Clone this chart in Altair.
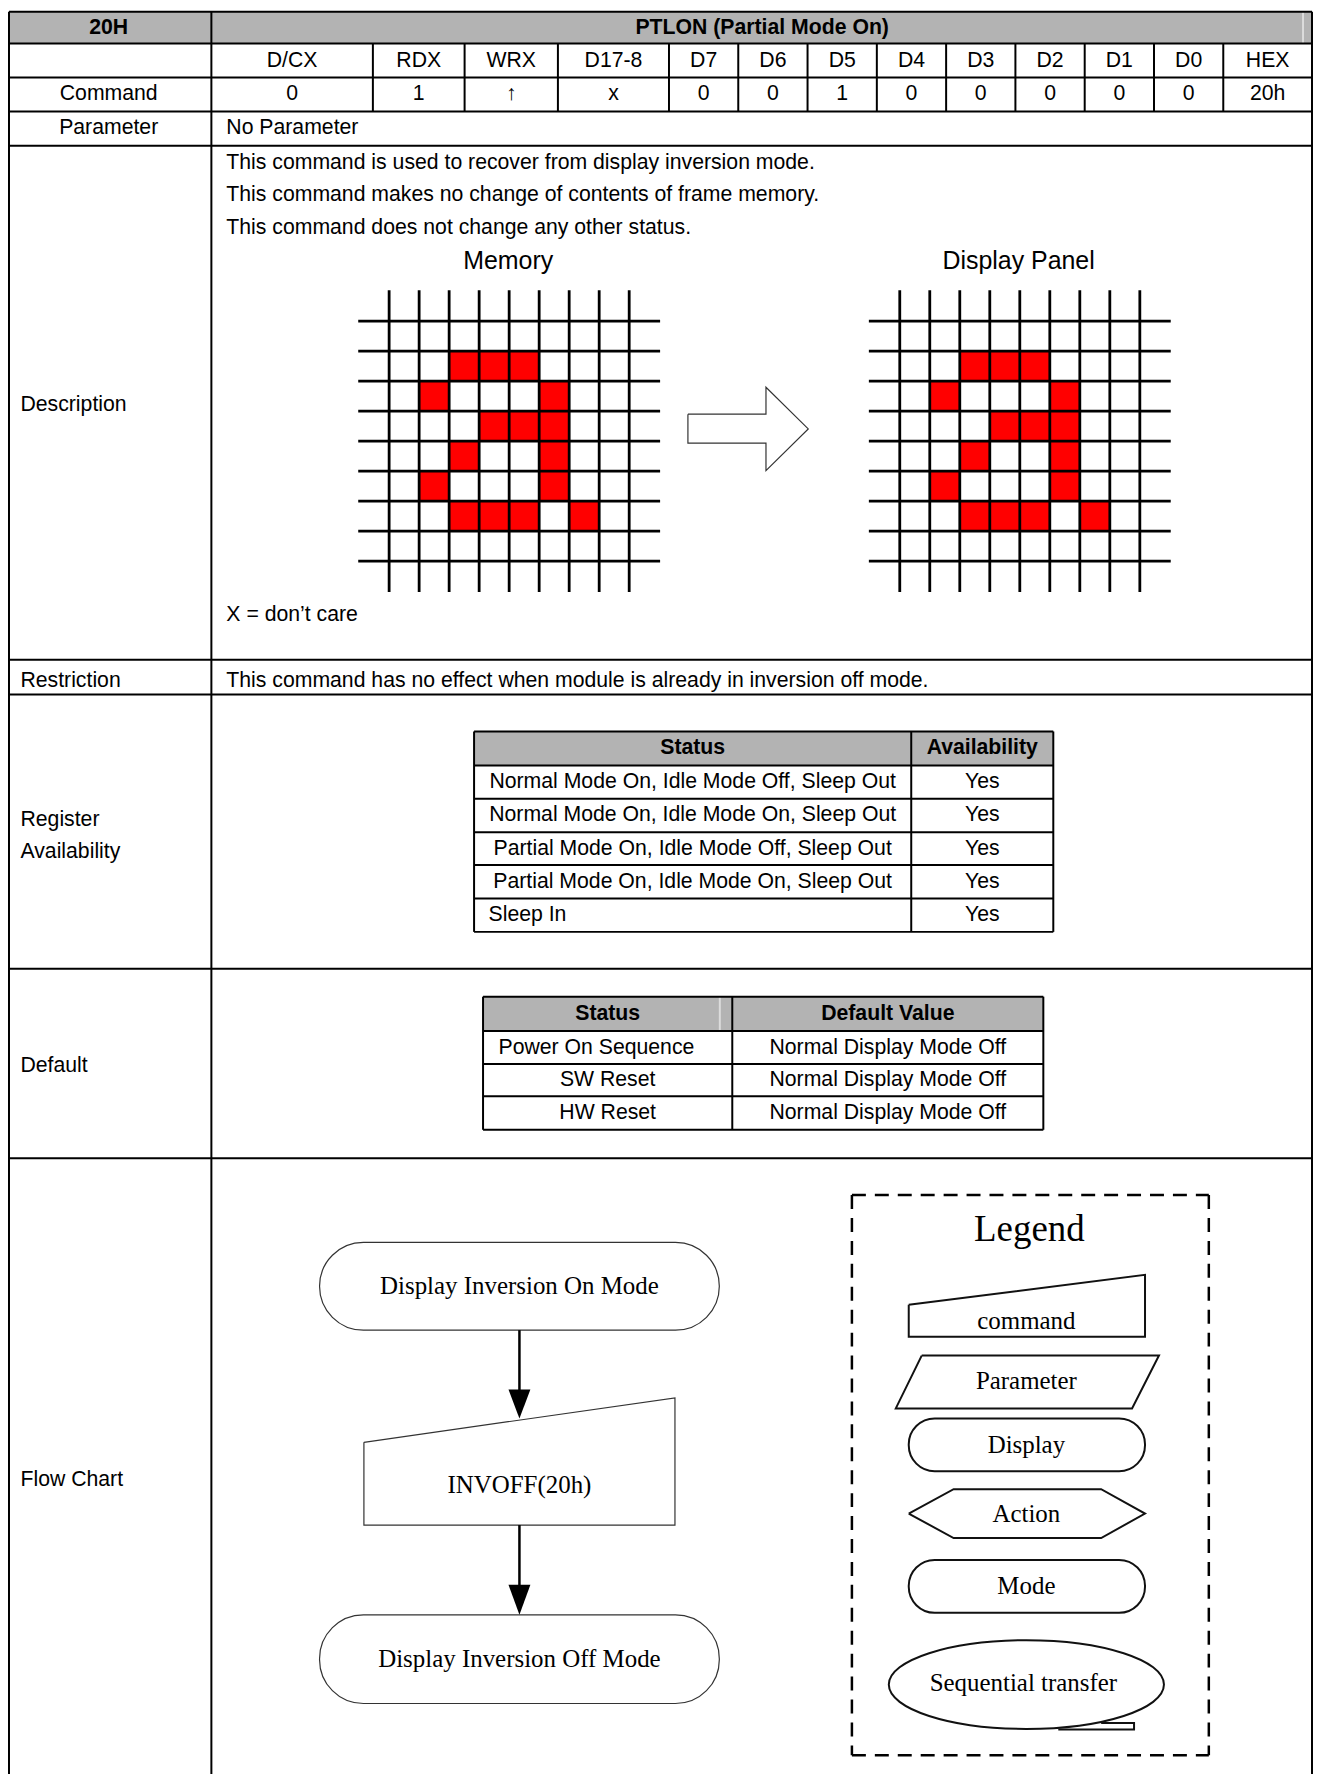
import altair as alt
import pandas as pd

# ---------------- data (positions in reference pixels) ----------------
TBL_LEFT, TBL_MID, TBL_RIGHT, TBL_BOTTOM = 9, 212, 1316, 1790
ROW_LINES = [9, 41, 75, 109, 143.5, 659, 694, 969, 1159]

BIT_EDGES = [212, 374, 466, 559.6, 671, 740.5, 810, 879.5, 949, 1018.5, 1088, 1157.5, 1227, 1316]
BIT_NAMES = ["D/CX", "RDX", "WRX", "D17-8", "D7", "D6", "D5", "D4", "D3", "D2", "D1", "D0", "HEX"]
BIT_VALUES = ["0", "1", "↑", "x", "0", "0", "1", "0", "0", "0", "0", "0", "20h"]

HEADER_TEXT = [("20H", 109, 25), ("PTLON (Partial Mode On)", 764.5, 25)]
CENTER_LABELS = [("Command", 109, 92), ("Parameter", 109, 126)]
LEFT_LABELS = [("Description", 20.5, 403.5), ("Restriction", 20.5, 680.5),
               ("Register", 20.5, 819.5), ("Availability", 20.5, 851.5),
               ("Default", 20.5, 1067), ("Flow Chart", 20.5, 1482)]
BODY_TEXT = [("No Parameter", 227, 126),
             ("This command is used to recover from display inversion mode.", 227, 161),
             ("This command makes no change of contents of frame memory.", 227, 193),
             ("This command does not change any other status.", 227, 225.5),
             ("X = don’t care", 227, 614),
             ("This command has no effect when module is already in inversion off mode.", 227, 680.5)]
PANEL_TITLES = [("Memory", 509.7, 258.7), ("Display Panel", 1021.7, 258.7)]

# pixel pattern (row, col) shown in both panels
RED_CELLS = [(1, 2), (1, 3), (1, 4), (2, 1), (2, 5), (3, 3), (3, 4), (3, 5),
             (4, 2), (4, 5), (5, 1), (5, 5), (6, 2), (6, 3), (6, 4), (6, 6)]
PANEL_X0 = [390.3, 902.5]
PANEL_Y0 = 319.3
CELL = 30.1
GRID_LINES = 9

BLOCK_ARROW = [(690, 412.7), (768.3, 412.7), (768.3, 385.7), (810.7, 427.5),
               (768.3, 469.3), (768.3, 441.7), (690, 441.7), (690, 412.7)]

# Register availability table
REG_X = [475.5, 914, 1056.5]
REG_Y = [731, 765, 798.5, 832, 865, 898.5, 932]
REG_HEAD = ["Status", "Availability"]
REG_STATUS = ["Normal Mode On, Idle Mode Off, Sleep Out",
              "Normal Mode On, Idle Mode On, Sleep Out",
              "Partial Mode On, Idle Mode Off, Sleep Out",
              "Partial Mode On, Idle Mode On, Sleep Out",
              "Sleep In"]
REG_AVAIL = ["Yes", "Yes", "Yes", "Yes", "Yes"]

# Default table
DEF_X = [484.5, 734.5, 1046.5]
DEF_Y = [997, 1031.5, 1064.5, 1097, 1130.5]
DEF_HEAD = ["Status", "Default Value"]
DEF_STATUS = ["Power On Sequence", "SW Reset", "HW Reset"]
DEF_VALUE = ["Normal Display Mode Off", "Normal Display Mode Off", "Normal Display Mode Off"]

# Flow chart
TERMINATORS = [("Display Inversion On Mode", 320.5, 721.5, 1243.5, 1331.5),
               ("Display Inversion Off Mode", 320.5, 721.5, 1617, 1706)]
CMD_SHAPE = [(365, 1444), (677, 1399.5), (677, 1527), (365, 1527), (365, 1444)]
CMD_TEXT = ("INVOFF(20h)", 521, 1487)
SHAFTS = [(521, 1331.5, 1392), (521, 1527, 1588)]
HEADS = [(1391, 1420), (1587, 1617)]
HEAD_X, HEAD_HALF = 521, 11

# Legend
LEG_BOX = (854.5, 1212.5, 1196, 1758)
LEG_TITLE = ("Legend", 1032.5, 1231)
LEG_POLYS = {
    "command": [(911.5, 1306), (1148.5, 1276), (1148.5, 1338), (911.5, 1338), (911.5, 1306)],
    "parameter": [(924.5, 1357), (1162.5, 1357), (1135.5, 1410), (898.5, 1410), (924.5, 1357)],
    "action": [(911.5, 1515.5), (956.5, 1491), (1104.5, 1491), (1148.5, 1515.5), (1104.5, 1540),
               (956.5, 1540), (911.5, 1515.5)],
    "tail": [(1104.5, 1725.5), (1137.5, 1725.5), (1137.5, 1732), (1061.5, 1732)],
}
LEG_PILLS = [(911.5, 1148.5, 1420, 1473), (911.5, 1148.5, 1562, 1615)]
LEG_TEXT = [("command", 1029.5, 1322), ("Parameter", 1029.5, 1383), ("Display", 1029.5, 1446.5),
            ("Action", 1029.5, 1515.5), ("Mode", 1029.5, 1588.5), ("Sequential transfer", 1026.5, 1685)]
ELLIPSE = (1029.5, 1687)

# ---------------- scales (1:1 with the page, which starts 8px in) ----------------
XS = alt.Scale(domain=[8, 1317], nice=False, zero=False)
YS = alt.Scale(domain=[8, 1774], nice=False, zero=False, reverse=True)


def X(f):
    return alt.X(f + ":Q", scale=XS, axis=None)


def Y(f):
    return alt.Y(f + ":Q", scale=YS, axis=None)


def rules(rows, **kw):
    df = pd.DataFrame(rows, columns=["x", "x2", "y", "y2"])
    return alt.Chart(df).mark_rule(**kw).encode(x=X("x"), x2="x2:Q", y=Y("y"), y2="y2:Q")


def rects(rows, **kw):
    df = pd.DataFrame(rows, columns=["x", "x2", "y", "y2"])
    return alt.Chart(df).mark_rect(**kw).encode(x=X("x"), x2="x2:Q", y=Y("y"), y2="y2:Q")


def texts(rows, **kw):
    df = pd.DataFrame(rows, columns=["t", "x", "y"])
    return alt.Chart(df).mark_text(baseline="middle", **kw).encode(x=X("x"), y=Y("y"), text="t:N")


def polys(shapes, **kw):
    rows = []
    for name, pts in shapes.items():
        for i, (px, py) in enumerate(pts):
            rows.append({"shape": name, "ord": i, "x": px, "y": py})
    df = pd.DataFrame(rows)
    return alt.Chart(df).mark_line(strokeJoin="miter", **kw).encode(
        x=X("x"), y=Y("y"), detail="shape:N", order="ord:Q")


SANS = "Liberation Sans"
SERIF = "Liberation Serif"
GRAY = "#b3b3b3"
FS = 21.3

layers = []

# --- fills ---
layers.append(rects([(TBL_LEFT, TBL_RIGHT, ROW_LINES[0], ROW_LINES[1]),
                     (REG_X[0], REG_X[-1], REG_Y[0], REG_Y[1]),
                     (DEF_X[0], DEF_X[-1], DEF_Y[0], DEF_Y[1])], color=GRAY))
layers.append(rules([(1307, 1307, ROW_LINES[0], ROW_LINES[1]),
                     (722, 722, DEF_Y[0], DEF_Y[1])], color="#dcdcdc", strokeWidth=2))

red = []
for x0 in PANEL_X0:
    for r, c in RED_CELLS:
        red.append((x0 + c * CELL, x0 + (c + 1) * CELL, PANEL_Y0 + r * CELL, PANEL_Y0 + (r + 1) * CELL))
layers.append(rects(red, color="#ff0000"))

# --- main table lines ---
main = []
for yv in ROW_LINES:
    main.append((TBL_LEFT, TBL_RIGHT, yv, yv))
for xv in (TBL_LEFT, TBL_MID, TBL_RIGHT):
    main.append((xv, xv, ROW_LINES[0], TBL_BOTTOM))
for xv in BIT_EDGES[1:-1]:
    main.append((xv, xv, ROW_LINES[1], ROW_LINES[3]))
# small tables
for yv in REG_Y:
    main.append((REG_X[0], REG_X[-1], yv, yv))
for xv in REG_X:
    main.append((xv, xv, REG_Y[0], REG_Y[-1]))
for yv in DEF_Y:
    main.append((DEF_X[0], DEF_X[-1], yv, yv))
for xv in DEF_X:
    main.append((xv, xv, DEF_Y[0], DEF_Y[-1]))
layers.append(rules(main, color="black", strokeWidth=2))

# --- pixel grids ---
grid = []
for x0 in PANEL_X0:
    for i in range(GRID_LINES):
        gx = x0 + i * CELL
        grid.append((gx, gx, PANEL_Y0 - 31, PANEL_Y0 + (GRID_LINES - 1) * CELL + 31))
        gy = PANEL_Y0 + i * CELL
        grid.append((x0 - 31, x0 + (GRID_LINES - 1) * CELL + 31, gy, gy))
layers.append(rules(grid, color="black", strokeWidth=2.8))

layers.append(polys({"arrow": BLOCK_ARROW}, color="#333333", strokeWidth=1.2))

# --- flow chart ---
layers.append(rects([(t[1], t[2], t[3], t[4]) for t in TERMINATORS], fill="white",
                    stroke="#333333", strokeWidth=1.2, cornerRadius=44))
layers.append(polys({"cmd": CMD_SHAPE}, color="#333333", strokeWidth=1.2))
layers.append(rules([(sx, sx, a, b) for sx, a, b in SHAFTS], color="black", strokeWidth=2.5))
head_rows = []
for k, (yb, yt) in enumerate(HEADS):
    head_rows.append({"id": k, "y": yb, "xl": HEAD_X - HEAD_HALF, "xr": HEAD_X + HEAD_HALF})
    head_rows.append({"id": k, "y": yt, "xl": HEAD_X, "xr": HEAD_X})
layers.append(alt.Chart(pd.DataFrame(head_rows)).mark_area(orient="horizontal", color="black").encode(
    y=Y("y"), x=X("xl"), x2="xr:Q", detail="id:N"))

# --- legend ---
bx0, bx1, by0, by1 = LEG_BOX
layers.append(rules([(bx0, bx1, by0, by0), (bx0, bx1, by1, by1), (bx0, bx0, by0, by1), (bx1, bx1, by0, by1)],
                    color="black", strokeWidth=2.5, strokeDash=[14, 9]))
layers.append(rects(LEG_PILLS, fill="white", stroke="#111111", strokeWidth=2, cornerRadius=26))
layers.append(polys({k: v for k, v in LEG_POLYS.items()}, color="#111111", strokeWidth=2))
layers.append(alt.Chart(pd.DataFrame([{"x": ELLIPSE[0], "y": ELLIPSE[1]}])).mark_point(
    shape="M -1 0 A 1 0.3225 0 1 1 1 0 A 1 0.3225 0 1 1 -1 0 Z", size=276 * 276,
    filled=False, stroke="#111111", strokeWidth=2, opacity=1).encode(x=X("x"), y=Y("y")))

# --- texts ---
layers.append(texts(HEADER_TEXT, font=SANS, fontSize=FS, fontWeight="bold", align="center"))
layers.append(texts([(n, (BIT_EDGES[i] + BIT_EDGES[i + 1]) / 2, 58) for i, n in enumerate(BIT_NAMES)]
                    + [(v, (BIT_EDGES[i] + BIT_EDGES[i + 1]) / 2, 92) for i, v in enumerate(BIT_VALUES)]
                    + CENTER_LABELS
                    + [(s, (REG_X[0] + REG_X[1]) / 2, (REG_Y[i + 1] + REG_Y[i + 2]) / 2)
                       for i, s in enumerate(REG_STATUS) if s != "Sleep In"]
                    + [(v, (REG_X[1] + REG_X[2]) / 2, (REG_Y[i + 1] + REG_Y[i + 2]) / 2)
                       for i, v in enumerate(REG_AVAIL)]
                    + [(s, (DEF_X[0] + DEF_X[1]) / 2, (DEF_Y[i + 1] + DEF_Y[i + 2]) / 2)
                       for i, s in enumerate(DEF_STATUS) if i > 0]
                    + [(v, (DEF_X[1] + DEF_X[2]) / 2, (DEF_Y[i + 1] + DEF_Y[i + 2]) / 2)
                       for i, v in enumerate(DEF_VALUE)],
                    font=SANS, fontSize=FS, align="center"))
layers.append(texts(LEFT_LABELS + BODY_TEXT
                    + [("Sleep In", 490, (REG_Y[5] + REG_Y[6]) / 2),
                       ("Power On Sequence", 500, (DEF_Y[1] + DEF_Y[2]) / 2)],
                    font=SANS, fontSize=FS, align="left"))
layers.append(texts([(REG_HEAD[0], (REG_X[0] + REG_X[1]) / 2, (REG_Y[0] + REG_Y[1]) / 2),
                     (REG_HEAD[1], (REG_X[1] + REG_X[2]) / 2, (REG_Y[0] + REG_Y[1]) / 2),
                     (DEF_HEAD[0], (DEF_X[0] + DEF_X[1]) / 2, (DEF_Y[0] + DEF_Y[1]) / 2),
                     (DEF_HEAD[1], (DEF_X[1] + DEF_X[2]) / 2, (DEF_Y[0] + DEF_Y[1]) / 2)],
                    font=SANS, fontSize=FS, fontWeight="bold", align="center"))
layers.append(texts(PANEL_TITLES, font=SANS, fontSize=25, align="center"))
layers.append(texts([(t[0], (t[1] + t[2]) / 2, (t[3] + t[4]) / 2) for t in TERMINATORS] + [CMD_TEXT]
                    + LEG_TEXT, font=SERIF, fontSize=25, align="center"))
layers.append(texts([LEG_TITLE], font=SERIF, fontSize=37, align="center"))

chart = alt.layer(*layers).properties(
    width=1309, height=1766, padding=0, autosize=alt.AutoSizeParams(type="none"),
    background="white",
).configure_view(stroke=None)

chart.save("out.html", embed_options={"renderer": "svg", "actions": False})
